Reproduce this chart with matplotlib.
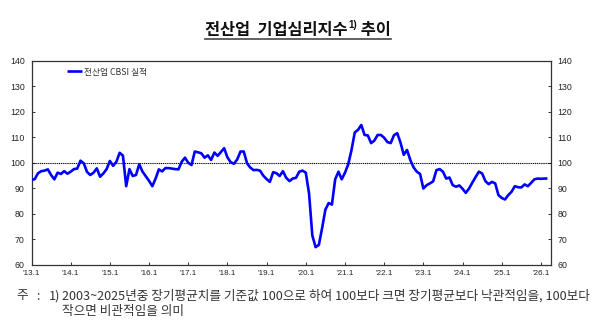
import matplotlib
matplotlib.use("Agg")
import matplotlib.pyplot as plt
import numpy as np

plt.rcParams['font.family'] = ['Noto Sans CJK KR', 'DejaVu Sans']

# Monthly all-industry CBSI (actual), Jan 2013 onward
cbsi_2013 = [93.3, 93.7, 96.0, 96.8, 97.0, 97.5, 95.3, 93.6, 96.2, 95.7, 96.8, 95.8]
cbsi_2014 = [96.6, 97.6, 97.8, 100.9, 99.9, 96.5, 95.3, 96.2, 97.9, 94.6, 95.9, 97.6]
cbsi_2015 = [100.8, 98.9, 100.5, 104.0, 102.9, 90.9, 97.6, 94.9, 95.3, 99.5, 96.6, 94.8]
cbsi_2016 = [93.0, 90.9, 93.9, 97.5, 96.7, 98.0, 98.0, 97.8, 97.6, 97.5, 100.5, 102.1]
cbsi_2017 = [100.1, 99.2, 104.5, 104.2, 103.8, 102.1, 103.0, 101.2, 104.1, 102.8, 104.3, 105.8]
cbsi_2018 = [102.2, 100.3, 99.7, 101.4, 104.5, 104.5, 99.9, 98.2, 97.2, 97.3, 97.0, 95.0]
cbsi_2019 = [93.7, 92.6, 96.4, 96.0, 94.9, 96.8, 94.2, 92.9, 93.9, 94.2, 96.6, 97.0]
cbsi_2020 = [96.2, 88.0, 71.6, 67.0, 67.9, 74.5, 81.7, 84.3, 83.7, 93.6, 96.6, 93.6]
cbsi_2021 = [96.2, 99.5, 105.1, 112.0, 113.0, 114.9, 111.0, 110.8, 107.8, 108.8, 111.0, 111.0]
cbsi_2022 = [109.9, 108.2, 107.8, 110.9, 111.7, 108.0, 103.2, 105.1, 101.2, 98.3, 96.6, 95.7]
cbsi_2023 = [90.0, 91.3, 92.0, 92.8, 97.2, 97.6, 96.6, 93.9, 94.3, 91.3, 90.7, 91.2]
cbsi_2024 = [89.9, 88.3, 90.0, 92.3, 94.5, 96.6, 95.9, 92.9, 91.7, 92.6, 92.0, 87.4]
cbsi_2025 = [86.3, 85.7, 87.4, 88.7, 90.9, 90.5, 90.4, 91.6, 90.9, 92.2, 93.6, 93.9]
cbsi_2026 = [93.8, 93.9, 93.9]

cbsi = (cbsi_2013 + cbsi_2014 + cbsi_2015 + cbsi_2016 + cbsi_2017 + cbsi_2018 +
        cbsi_2019 + cbsi_2020 + cbsi_2021 + cbsi_2022 + cbsi_2023 + cbsi_2024 +
        cbsi_2025 + cbsi_2026)

x_tick_labels = ["'13.1", "'14.1", "'15.1", "'16.1", "'17.1", "'18.1", "'19.1",
                 "'20.1", "'21.1", "'22.1", "'23.1", "'24.1", "'25.1", "'26.1"]
y_ticks = [60, 70, 80, 90, 100, 110, 120, 130, 140]
baseline_value = 100
series_label = '전산업 CBSI 실적'
title_main = '전산업  기업심리지수'
title_sup = '1)'
title_tail = ' 추이'
note_head = '주'
note_colon = ':'
note_num = '1)'
note_line1 = '2003~2025년중 장기평균치를 기준값 100으로 하여 100보다 크면 장기평균보다 낙관적임을, 100보다'
note_line2 = '작으면 비관적임을 의미'

W, H = 600, 326
fig = plt.figure(figsize=(W / 100, H / 100), dpi=100)
ax_l, ax_r, ax_t, ax_b = 31.5, 550.7, 61, 265
ax = fig.add_axes([ax_l / W, 1 - ax_b / H, (ax_r - ax_l) / W, (ax_b - ax_t) / H])

x = np.arange(len(cbsi))
ax.plot(x, cbsi, color='#0000ff', lw=1.9, label=series_label,
        solid_joinstyle='round', solid_capstyle='butt', zorder=3)
ax.axhline(baseline_value, color='black', lw=0.8, ls=(0, (1, 0.7)), zorder=2)

ax.set_xlim(0, 159)
ax.set_ylim(60, 140)
ax.set_yticks(y_ticks)
ax.set_xticks(np.arange(len(x_tick_labels)) * 12)
ax.set_xticklabels(x_tick_labels)

for s in ax.spines.values():
    s.set_color('#333333')
    s.set_linewidth(0.9)

tick_family = ['Liberation Sans', 'DejaVu Sans']
ax.tick_params(axis='y', direction='in', length=2.5, width=0.7, color='#333333',
               left=True, right=True, labelleft=True, labelright=True, pad=5,
               labelcolor='#222222')
ax.tick_params(axis='x', direction='in', length=2.5, width=0.7, color='#333333',
               pad=3.5, labelcolor='#222222')
for lab in ax.get_yticklabels():
    lab.set_fontfamily(tick_family)
    lab.set_fontsize(6.3)
for lab in ax.get_xticklabels():
    lab.set_fontfamily(tick_family)
    lab.set_fontsize(5.8)

leg = ax.legend(loc='center left', bbox_to_anchor=((67 - ax_l) / (ax_r - ax_l), (ax_b - 72) / (ax_b - ax_t)),
                frameon=False, borderaxespad=0, borderpad=0, handlelength=1.75,
                handletextpad=0.15, prop=dict(size=6.3))
for t in leg.get_texts():
    t.set_color('#333333')

fig.canvas.draw()
renderer = fig.canvas.get_renderer()


def width_px(t):
    return t.get_window_extent(renderer).width


# Title built from pieces so the footnote mark sits raised
title_size = 12
t1 = fig.text(0, 0, title_main, fontsize=title_size, fontweight='bold', color='#111111', va='baseline')
t2 = fig.text(0, 0, title_sup, fontsize=title_size * 0.6, fontweight='bold', color='#111111', va='baseline',
              family=['Liberation Sans', 'DejaVu Sans'])
t3 = fig.text(0, 0, title_tail, fontsize=title_size, fontweight='bold', color='#111111', va='baseline')
w1, w2, w3 = width_px(t1), width_px(t2), width_px(t3)
scale = 186 / (w1 + w2 + w3)
for t in (t1, t3):
    t.set_fontsize(title_size * scale)
t2.set_fontsize(title_size * 0.6 * scale)
w1, w2, w3 = width_px(t1), width_px(t2), width_px(t3)
total = w1 + w2 + w3
x0 = 297.5 - total / 2
base_y = 35.5
t1.set_position((x0 / W, 1 - base_y / H))
t2.set_position(((x0 + w1 + 1) / W, 1 - (base_y - 7.5) / H))
t3.set_position(((x0 + w1 + w2 + 1) / W, 1 - base_y / H))
fig.add_artist(plt.Line2D([x0 / W, (x0 + total + 1) / W], [1 - 39.3 / H, 1 - 39.3 / H],
                          transform=fig.transFigure, color='#555555', lw=1.3))

# Footnote
note_color = '#333333'
n1 = fig.text(62 / W, 1 - 296 / H, note_line1, fontsize=8, color=note_color, va='center')
nw = width_px(n1)
note_size = 8 * 530 / nw
n1.set_fontsize(note_size)
fig.text(62 / W, 1 - 312 / H, note_line2, fontsize=note_size, color=note_color, va='center')
fig.text(16 / W, 1 - 296 / H, note_head, fontsize=note_size, color=note_color, va='center')
fig.text(36 / W, 1 - 296 / H, note_colon, fontsize=note_size, color=note_color, va='center')
fig.text(49 / W, 1 - 296 / H, note_num, fontsize=note_size, color=note_color, va='center')

fig.savefig('out.png', dpi=100)
